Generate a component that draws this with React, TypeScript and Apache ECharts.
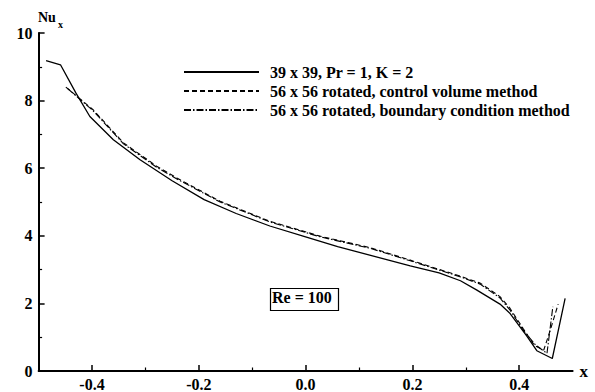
import React, { useEffect, useRef } from "react";
import * as echarts from "echarts";

const FONT = "'Liberation Serif', 'Times New Roman', serif";

const seriesNames = [
  "39 x 39, Pr = 1, K = 2",
  "56 x 56 rotated, control volume method",
  "56 x 56 rotated, boundary condition method",
];

const xSolid = [-0.486, -0.459, -0.43, -0.404, -0.36, -0.31, -0.25, -0.19, -0.13, -0.067, 0.0, 0.06, 0.12, 0.196, 0.25, 0.29, 0.32, 0.364, 0.383, 0.414, 0.433, 0.462, 0.486];
const ySolid = [9.18, 9.06, 8.22, 7.53, 6.84, 6.25, 5.63, 5.07, 4.66, 4.29, 3.97, 3.68, 3.43, 3.11, 2.9, 2.67, 2.4, 1.98, 1.7, 1.04, 0.6, 0.37, 2.15];

const xCV = [-0.449, -0.398, -0.341, -0.279, -0.241, -0.16, -0.067, 0.027, 0.121, 0.196, 0.289, 0.327, 0.364, 0.383, 0.408, 0.429, 0.446, 0.458, 0.473];
const yCV = [8.4, 7.73, 6.75, 6.06, 5.71, 5.02, 4.43, 3.99, 3.65, 3.28, 2.81, 2.6, 2.2, 1.85, 1.24, 0.75, 0.62, 1.2, 1.98];

const xBC = [-0.446, -0.398, -0.341, -0.279, -0.241, -0.16, -0.067, 0.027, 0.121, 0.196, 0.289, 0.327, 0.364, 0.383, 0.408, 0.43, 0.452, 0.463];
const yBC = [8.36, 7.7, 6.72, 6.03, 5.68, 5.0, 4.41, 3.97, 3.63, 3.26, 2.79, 2.57, 2.16, 1.8, 1.2, 0.78, 0.52, 1.9];

const xMajorTicks = [-0.4, -0.2, 0, 0.2, 0.4];
const xMinorTicks = [-0.3, -0.1, 0.1, 0.3];

const toPairs = (xs: number[], ys: number[]) => xs.map((x, i) => [x, ys[i]]);

export default function App() {
  const ref = useRef<HTMLDivElement>(null);
  useEffect(() => {
    if (!ref.current) return;
    const chart = echarts.init(ref.current, null, { renderer: "svg" });
    const lineCommon = { color: "#000", width: 1.3 };
    chart.setOption({
      animation: false,
      backgroundColor: "#fff",
      textStyle: { fontFamily: FONT, color: "#000" },
      grid: { left: 38.6, right: 22.4, top: 33, bottom: 20 },
      legend: {
        orient: "vertical",
        left: 178,
        top: 59,
        itemWidth: 75,
        itemHeight: 14,
        itemGap: 3,
        data: seriesNames,
        itemStyle: { opacity: 0 },
        textStyle: { fontFamily: FONT, fontWeight: "bold", fontSize: 16, color: "#000", padding: [0, 0, 0, 6] },
      },
      xAxis: [
        {
          type: "value",
          min: -0.5,
          max: 0.5,
          position: "bottom",
          name: "x",
          nameLocation: "end",
          nameGap: 7,
          nameTextStyle: { fontFamily: FONT, fontWeight: "bold", fontSize: 17, color: "#000", verticalAlign: "middle" },
          axisLine: { onZero: false, lineStyle: { color: "#000", width: 2 } },
          axisTick: { inside: true, length: 6, customValues: xMajorTicks, lineStyle: { color: "#000", width: 1.5 } },
          axisLabel: {
            customValues: xMajorTicks,
            margin: 5,
            fontFamily: FONT,
            fontWeight: "bold",
            fontSize: 16,
            color: "#000",
            formatter: (v: number) => v.toFixed(1),
          },
          splitLine: { show: false },
        },
        {
          type: "value",
          min: -0.5,
          max: 0.5,
          position: "bottom",
          axisLine: { show: false, onZero: false },
          axisTick: { inside: true, length: 3.5, customValues: xMinorTicks, lineStyle: { color: "#000", width: 1.2 } },
          axisLabel: { show: false },
          splitLine: { show: false },
        },
      ],
      yAxis: {
        type: "value",
        min: 0,
        max: 10,
        interval: 2,
        axisLine: { show: true, onZero: false, lineStyle: { color: "#000", width: 2 } },
        axisTick: { show: true, inside: true, length: 6, lineStyle: { color: "#000", width: 1.5 } },
        minorTick: { show: true, splitNumber: 2, length: 3.5, lineStyle: { color: "#000", width: 1.2 } },
        axisLabel: { margin: 6, fontFamily: FONT, fontWeight: "bold", fontSize: 16, color: "#000" },
        splitLine: { show: false },
        minorSplitLine: { show: false },
      },
      series: [
        {
          name: seriesNames[0],
          type: "line",
          symbol: "none",
          data: toPairs(xSolid, ySolid),
          lineStyle: { ...lineCommon, type: "solid" },
          itemStyle: { color: "#000" },
        },
        {
          name: seriesNames[1],
          type: "line",
          symbol: "none",
          data: toPairs(xCV, yCV),
          lineStyle: { ...lineCommon, width: 1.1, type: [5, 3] },
          itemStyle: { color: "#000" },
        },
        {
          name: seriesNames[2],
          type: "line",
          symbol: "none",
          data: toPairs(xBC, yBC),
          lineStyle: { ...lineCommon, width: 1.1, type: [7, 2, 1.5, 2] },
          itemStyle: { color: "#000" },
        },
      ],
      graphic: [
        { type: "text", left: 38, top: 10, style: { text: "Nu", font: `bold 14px ${FONT}`, fill: "#000" } },
        { type: "text", left: 58, top: 19, style: { text: "x", font: `bold 10px ${FONT}`, fill: "#000" } },
        {
          type: "rect",
          left: 268,
          top: 286,
          shape: { width: 68, height: 22 },
          style: { fill: "none", stroke: "#000", lineWidth: 1.2 },
        },
        {
          type: "text",
          left: 272,
          top: 289,
          style: { text: "Re = 100", font: `bold 16px ${FONT}`, fill: "#000" },
        },
      ],
    });
    return () => chart.dispose();
  }, []);
  return (
    <div
      ref={ref}
      style={{ position: "fixed", left: 0, top: 0, width: 595, height: 392, background: "#fff" }}
    />
  );
}
